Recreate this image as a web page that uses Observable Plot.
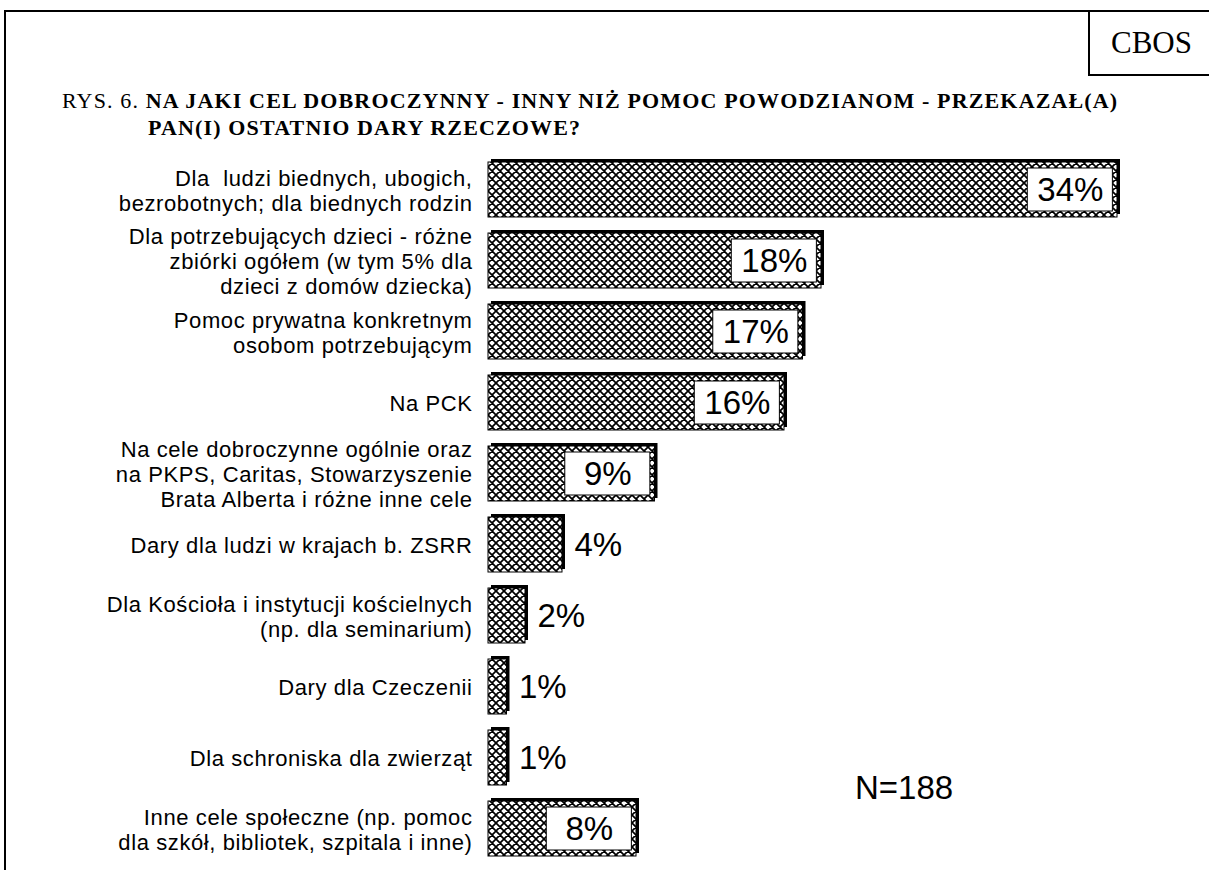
<!DOCTYPE html>
<html><head><meta charset="utf-8">
<script src="https://cdn.jsdelivr.net/npm/d3@7"></script>
<script src="https://cdn.jsdelivr.net/npm/@observablehq/plot@0.6"></script>
<style>
body{margin:0;background:#fff;}
#wrap{position:relative;width:1209px;height:870px;overflow:hidden;background:#fff;}
.ln{position:absolute;background:#000;}
.title{position:absolute;font-family:"Liberation Serif",serif;font-size:22px;line-height:22px;letter-spacing:1.15px;white-space:nowrap;color:#000;}
#cbos{position:absolute;left:1090px;top:12px;width:119px;height:62px;font-family:"Liberation Serif",serif;font-size:31px;display:flex;align-items:center;justify-content:center;padding-left:4px;box-sizing:border-box;}
#n{position:absolute;left:855px;top:769px;font-family:"Liberation Sans",Arial,sans-serif;font-size:33px;}
#chart{position:absolute;left:0;top:151px;}
#chart text{white-space:pre;}
</style></head>
<body>
<div id="wrap">
  <div class="ln" style="left:4px;top:10px;width:2px;height:860px"></div>
  <div class="ln" style="left:4px;top:10px;width:1205px;height:2px"></div>
  <div class="ln" style="left:1088px;top:10px;width:2px;height:66px"></div>
  <div class="ln" style="left:1088px;top:74px;width:121px;height:2px"></div>
  <div id="cbos">CBOS</div>
  <div class="title" style="left:62px;top:90px">RYS. 6. <b>NA JAKI CEL DOBROCZYNNY - INNY NIŻ POMOC POWODZIANOM - PRZEKAZAŁ(A)</b></div>
  <div class="title" style="left:148px;top:117px"><b>PAN(I) OSTATNIO DARY RZECZOWE?</b></div>
  <div id="n">N=188</div>
  <div id="chart"></div>
</div>
<script>
const categories = [
  "Dla  ludzi biednych, ubogich,\nbezrobotnych; dla biednych rodzin",
  "Dla potrzebujących dzieci - różne\nzbiórki ogółem (w tym 5% dla\ndzieci z domów dziecka)",
  "Pomoc prywatna konkretnym\nosobom potrzebującym",
  "Na PCK",
  "Na cele dobroczynne ogólnie oraz\nna PKPS, Caritas, Stowarzyszenie\nBrata Alberta i różne inne cele",
  "Dary dla ludzi w krajach b. ZSRR",
  "Dla Kościoła i instytucji kościelnych\n(np. dla seminarium)",
  "Dary dla Czeczenii",
  "Dla schroniska dla zwierząt",
  "Inne cele społeczne (np. pomoc\ndla szkół, bibliotek, szpitala i inne)"
];
const values = [34, 18, 17, 16, 9, 4, 2, 1, 1, 8];

const data = categories.map((c, i) => ({cat: c, value: values[i]}));
const big = data.filter(d => d.value >= 8);
const small = data.filter(d => d.value < 8);
const pct = d => d.value + "%";

const chart = Plot.plot({
  width: 1209, height: 715,
  marginLeft: 488, marginRight: 92, marginTop: 0, marginBottom: 0,
  style: {fontFamily: "Liberation Sans, Arial, sans-serif", background: "transparent", overflow: "visible"},
  x: {domain: [0, 34], axis: null},
  y: {domain: categories, axis: null, paddingInner: 0.23, paddingOuter: 0.115},
  marks: [
    Plot.barX(data, {x: "value", y: "cat", fill: "black", dx: 3, dy: -3}),
    Plot.barX(data, {x: "value", y: "cat", fill: "url(#hatch)", stroke: "black", strokeWidth: 1}),
    Plot.barX(big, {x1: d => d.value - 4.85, x2: d => d.value - 0.25, y: "cat", fill: "white", stroke: "black", strokeWidth: 1, insetTop: 6, insetBottom: 6}),
    Plot.text(big, {x: d => d.value - 2.55, y: "cat", text: pct, fontSize: 33, fill: "black"}),
    Plot.text(small, {x: "value", y: "cat", text: pct, fontSize: 33, fill: "black", textAnchor: "start", dx: 12}),
    Plot.text(data, {x: 0, y: "cat", text: "cat", textAnchor: "end", dx: -16, fontSize: 22, lineHeight: 1.14, fill: "black"})
  ]
});
const svg = chart.tagName.toLowerCase() === "svg" ? chart : chart.querySelector("svg");
d3.select(svg).insert("defs", ":first-child").html(
  '<pattern id="hatch" patternUnits="userSpaceOnUse" width="8" height="8">' +
  '<rect width="8" height="8" fill="white"/>' +
  '<path d="M0,0L8,8M8,0L0,8M-1,7L1,9M7,-1L9,1M-1,1L1,-1M7,9L9,7" stroke="black" stroke-width="1.7" fill="none"/>' +
  '</pattern>');
const textGroups = svg.querySelectorAll('g[aria-label="text"]');
textGroups[textGroups.length - 1].style.letterSpacing = "0.6px";
document.getElementById("chart").appendChild(chart);
</script>
</body></html>
